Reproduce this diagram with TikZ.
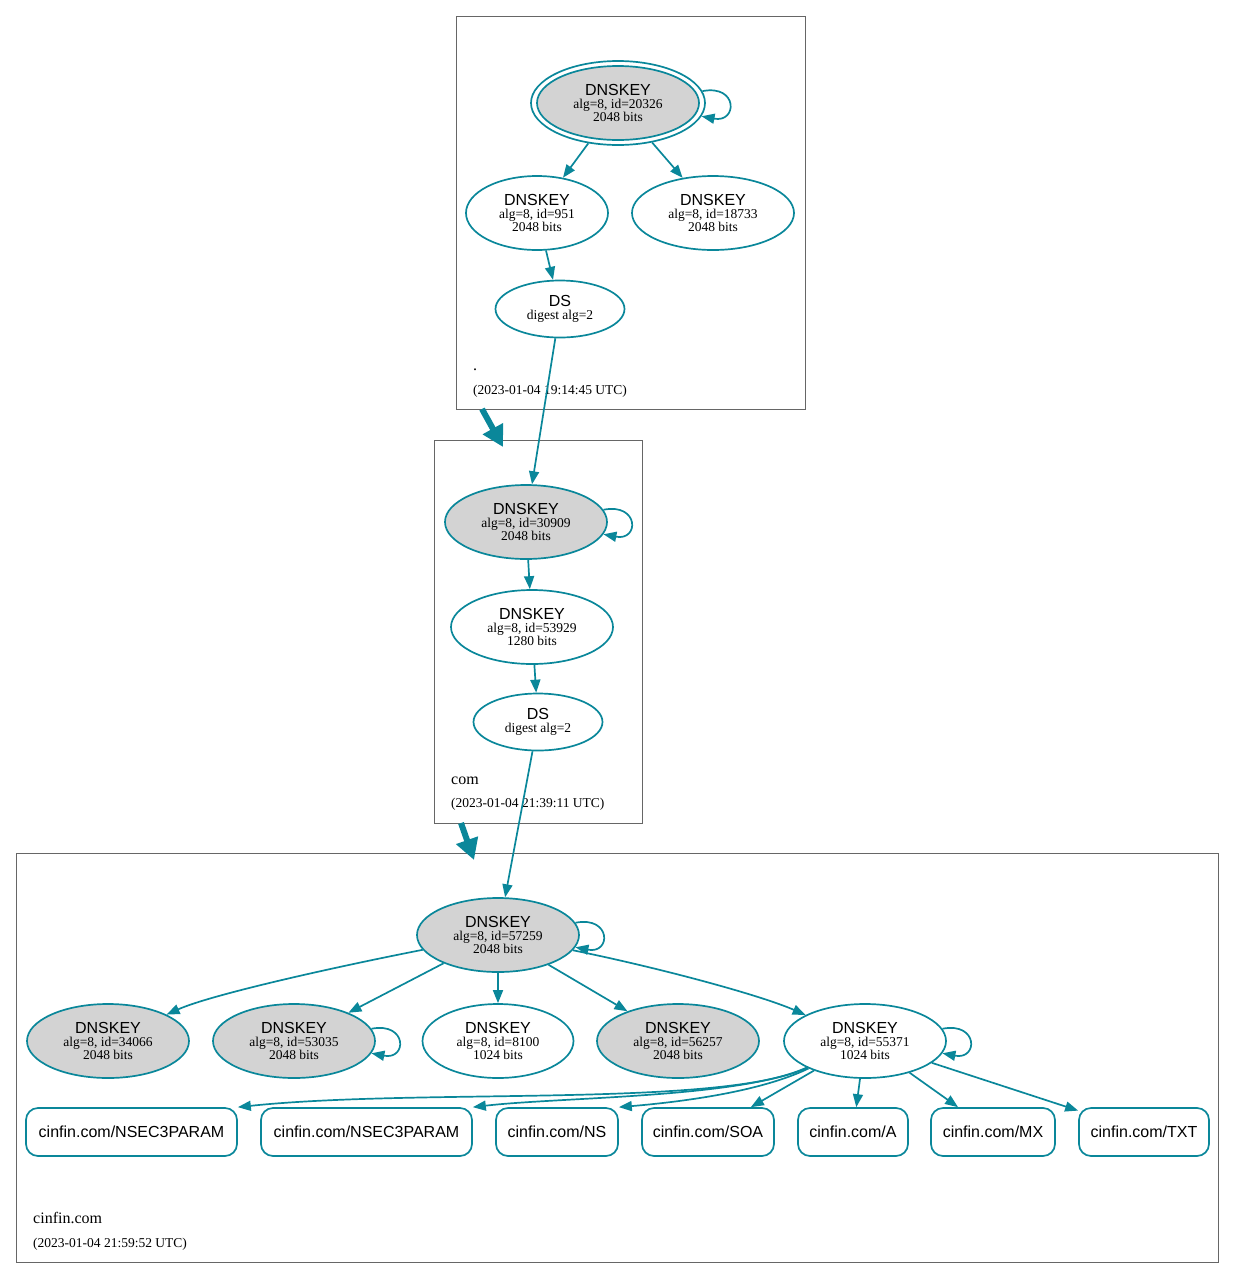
\documentclass[tikz,border=0pt]{standalone}
\usepackage{fontspec}
\setmainfont{Liberation Serif}
\newfontfamily\hv{Liberation Sans}
\usetikzlibrary{arrows.meta,shapes.geometric}
\definecolor{dnsteal}{HTML}{0A879A}
\definecolor{keygray}{HTML}{D3D3D3}
\tikzset{
  zonebox/.style={draw=black!60, line width=0.9pt},
  keynode/.style={ellipse, draw=dnsteal, line width=1.7pt, inner sep=0pt,
    minimum width=162pt, minimum height=74pt, align=center,
    font=\fontsize{13.5}{13}\selectfont},
  sepnode/.style={keynode, fill=keygray},
  dsnode/.style={keynode, minimum width=129pt, minimum height=57pt},
  rrnode/.style={rectangle, rounded corners=12pt, draw=dnsteal, line width=1.7pt,
    minimum height=48pt, inner sep=0pt, font=\hv\fontsize{16}{16}\selectfont},
  sigedge/.style={draw=dnsteal, line width=1.7pt, -{Triangle[length=13pt,width=10pt]}},
  delegedge/.style={draw=dnsteal, line width=6pt, -{Triangle[length=21pt,width=22pt]}},
  zonename/.style={anchor=base west, inner sep=0pt, font=\fontsize{16}{16}\selectfont},
  zonedate/.style={anchor=base west, inner sep=0pt, font=\fontsize{13.5}{13.5}\selectfont},
}
\newcommand{\keytext}[2]{{\hv\fontsize{16}{16}\selectfont DNSKEY}\\alg=8, id=#1\\#2 bits}
\newcommand{\dstext}{{\hv\fontsize{16}{16}\selectfont DS}\\digest alg=2}
\begin{document}
\begin{tikzpicture}[x=1pt,y=-1pt]
  \useasboundingbox (0,0) rectangle (1235,1278);
  % zones
  \draw [zonebox] (456,16) rectangle (805,409);
  \draw [zonebox] (434,440) rectangle (642,823);
  \draw [zonebox] (16,853) rectangle (1218,1262);
  \node [zonename] (rootname) at (473,370) {.};
  \node [zonedate] (rootdate) at (473,394) {(2023-01-04 19:14:45 UTC)};
  \node [zonename] (comname) at (451,784) {com};
  \node [zonedate] (comdate) at (451,807) {(2023-01-04 21:39:11 UTC)};
  \node [zonename] (cinname) at (33,1223) {cinfin.com};
  \node [zonedate] (cindate) at (33,1247) {(2023-01-04 21:59:52 UTC)};
  \coordinate (rootout) at (482,409);
  \coordinate (comin) at (503,447);
  \coordinate (comout) at (461,823);
  \coordinate (cinin) at (474,860);

  % root zone
  \node [ellipse, draw=dnsteal, line width=1.7pt, minimum width=174pt,
    minimum height=84pt] (k20326) at (618,103) {};
  \node [sepnode] (k20326i) at (618,103) {\keytext{20326}{2048}};
  \node [keynode, minimum width=142pt] (k951) at (537,213) {\keytext{951}{2048}};
  \node [keynode] (k18733) at (713,213) {\keytext{18733}{2048}};
  \node [dsnode] (dsroot) at (560,309) {\dstext};

  % com zone
  \node [sepnode] (k30909) at (526,522) {\keytext{30909}{2048}};
  \node [keynode] (k53929) at (532,627) {\keytext{53929}{1280}};
  \node [dsnode] (dscom) at (538,722) {\dstext};

  % cinfin.com zone
  \node [sepnode] (k57259) at (498,935) {\keytext{57259}{2048}};
  \node [sepnode] (k34066) at (108,1041) {\keytext{34066}{2048}};
  \node [sepnode] (k53035) at (294,1041) {\keytext{53035}{2048}};
  \node [keynode, minimum width=151pt] (k8100) at (498,1041) {\keytext{8100}{1024}};
  \node [sepnode] (k56257) at (678,1041) {\keytext{56257}{2048}};
  \node [keynode] (k55371) at (865,1041) {\keytext{55371}{1024}};
  \node [rrnode, minimum width=211pt] (nsec1) at (131.5,1132) {cinfin.com/NSEC3PARAM};
  \node [rrnode, minimum width=211pt] (nsec2) at (366.5,1132) {cinfin.com/NSEC3PARAM};
  \node [rrnode, minimum width=122pt] (rrns) at (557,1132) {cinfin.com/NS};
  \node [rrnode, minimum width=132pt] (rrsoa) at (708,1132) {cinfin.com/SOA};
  \node [rrnode, minimum width=110pt] (rra) at (853,1132) {cinfin.com/A};
  \node [rrnode, minimum width=124pt] (rrmx) at (993,1132) {cinfin.com/MX};
  \node [rrnode, minimum width=130pt] (rrtxt) at (1144,1132) {cinfin.com/TXT};

  % signatures
  \draw [sigedge] (k20326.8) .. controls +(36pt,7pt) and +(36pt,-7pt) .. (k20326.-9);
  \draw [sigedge] (k20326) -- (k951);
  \draw [sigedge] (k20326) -- (k18733);
  \draw [sigedge] (k951) -- (dsroot);
  \draw [sigedge] (dsroot) -- (k30909);
  \draw [sigedge] (k30909.9) .. controls +(36pt,7pt) and +(36pt,-7pt) .. (k30909.-9);
  \draw [sigedge] (k30909) -- (k53929);
  \draw [sigedge] (k53929) -- (dscom);
  \draw [sigedge] (dscom) -- (k57259);
  \draw [sigedge] (k57259.9) .. controls +(36pt,7pt) and +(36pt,-7pt) .. (k57259.-9);
  \draw [sigedge] (k57259) .. controls (330,968) and (210,995) .. (k34066);
  \draw [sigedge] (k57259) -- (k53035);
  \draw [sigedge] (k57259) -- (k8100);
  \draw [sigedge] (k57259) -- (k56257);
  \draw [sigedge] (k57259) .. controls (660,968) and (760,995) .. (k55371);
  \draw [sigedge] (k53035.9) .. controls +(36pt,7pt) and +(36pt,-7pt) .. (k53035.-9);
  \draw [sigedge] (k55371.9) .. controls +(36pt,7pt) and +(36pt,-7pt) .. (k55371.-9);
  \draw [sigedge] (k55371) .. controls (720,1108) and (420,1088) .. (nsec1.north east);
  \draw [sigedge] (k55371) .. controls (740,1098) and (560,1097) .. (nsec2.north east);
  \draw [sigedge] (k55371) .. controls (760,1092) and (680,1102) .. (rrns.north east);
  \draw [sigedge] (k55371) -- (rrsoa);
  \draw [sigedge] (k55371) -- (rra);
  \draw [sigedge] (k55371) -- (rrmx);
  \draw [sigedge] (k55371) -- (rrtxt);

  % delegations
  \draw [delegedge] (rootout) -- (comin);
  \draw [delegedge] (comout) -- (cinin);
\end{tikzpicture}
\end{document}
